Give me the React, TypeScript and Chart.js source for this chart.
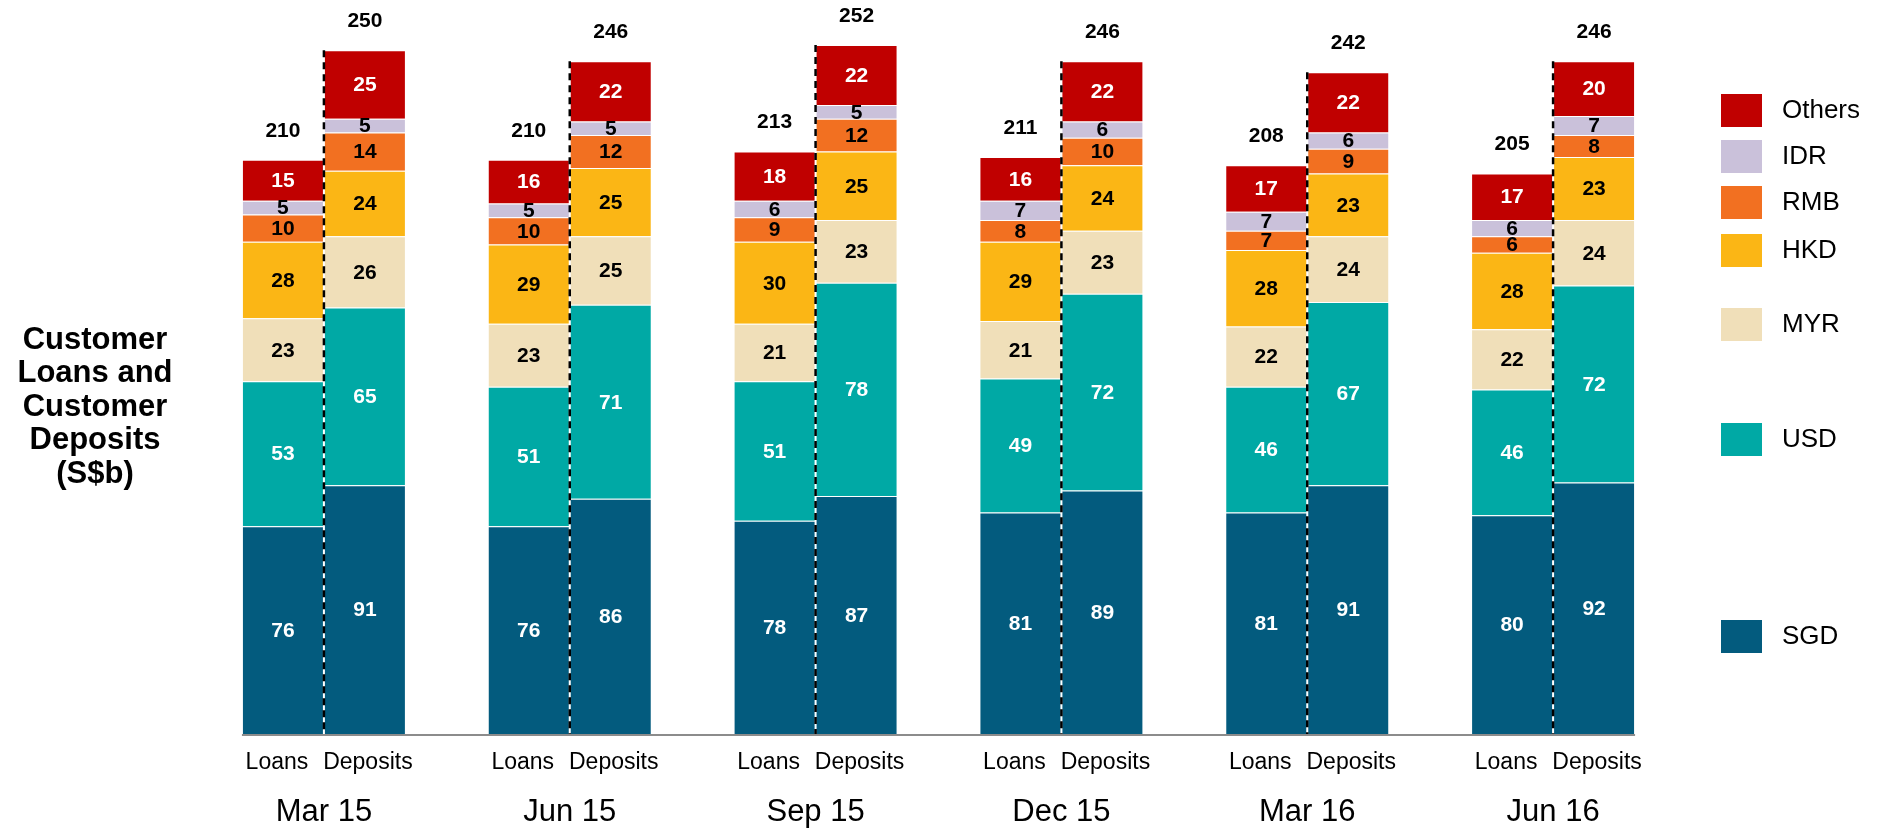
import React, { useEffect, useRef } from 'react';
import { Chart, registerables } from 'chart.js';

Chart.register(...registerables);

const PERIODS = ['Mar 15', 'Jun 15', 'Sep 15', 'Dec 15', 'Mar 16', 'Jun 16'];
const STACKS = ['Loans', 'Deposits'];
const CURRENCIES = ['SGD', 'USD', 'MYR', 'HKD', 'RMB', 'IDR', 'Others'];
const COLORS = ['#035b7e', '#00a9a5', '#f0dfb9', '#fbb615', '#f27021', '#cac1da', '#c00000'];
const LABEL_COLORS = ['#ffffff', '#ffffff', '#000000', '#000000', '#000000', '#000000', '#ffffff'];

const LOANS_SGD = [76, 76, 78, 81, 81, 80];
const LOANS_USD = [53, 51, 51, 49, 46, 46];
const LOANS_MYR = [23, 23, 21, 21, 22, 22];
const LOANS_HKD = [28, 29, 30, 29, 28, 28];
const LOANS_RMB = [10, 10, 9, 8, 7, 6];
const LOANS_IDR = [5, 5, 6, 7, 7, 6];
const LOANS_OTHERS = [15, 16, 18, 16, 17, 17];
const LOANS_TOTAL = [210, 210, 213, 211, 208, 205];

const DEP_SGD = [91, 86, 87, 89, 91, 92];
const DEP_USD = [65, 71, 78, 72, 67, 72];
const DEP_MYR = [26, 25, 23, 23, 24, 24];
const DEP_HKD = [24, 25, 25, 24, 23, 23];
const DEP_RMB = [14, 12, 12, 10, 9, 8];
const DEP_IDR = [5, 5, 5, 6, 6, 7];
const DEP_OTHERS = [25, 22, 22, 22, 22, 20];
const DEP_TOTAL = [250, 246, 252, 246, 242, 246];

const LOANS = [LOANS_SGD, LOANS_USD, LOANS_MYR, LOANS_HKD, LOANS_RMB, LOANS_IDR, LOANS_OTHERS];
const DEPOSITS = [DEP_SGD, DEP_USD, DEP_MYR, DEP_HKD, DEP_RMB, DEP_IDR, DEP_OTHERS];

const Y_TITLE = ['Customer', 'Loans and', 'Customer', 'Deposits', '(S$b)'];

const FONT = '"Liberation Sans", Arial, Helvetica, sans-serif';

// legend layout (top to bottom), irregular spacing as in the reference
const LEGEND_ORDER = [6, 5, 4, 3, 2, 1, 0];
const LEGEND_Y = [110, 156, 202, 250, 324, 439, 636];

const overlayPlugin = {
  id: 'overlay',
  afterDatasetsDraw(chart: any) {
    const ctx = chart.ctx as CanvasRenderingContext2D;
    const xs = chart.scales.x;
    const ys = chart.scales.y;
    const base = ys.getPixelForValue(0);
    const nC = CURRENCIES.length;
    ctx.save();

    // baseline from first bar's left edge to last bar's right edge
    const firstEl = chart.getDatasetMeta(0).data[0];
    const lastEl = chart.getDatasetMeta(1).data[PERIODS.length - 1];
    ctx.strokeStyle = '#8c8c8c';
    ctx.lineWidth = 2;
    ctx.beginPath();
    ctx.moveTo(firstEl.x - firstEl.width / 2, base + 1);
    ctx.lineTo(lastEl.x + lastEl.width / 2, base + 1);
    ctx.stroke();

    // dashed separators
    const depTopMeta = chart.getDatasetMeta(2 * (nC - 1) + 1);
    ctx.strokeStyle = '#000000';
    ctx.lineWidth = 2.5;
    ctx.setLineDash([7, 5]);
    PERIODS.forEach((_, i) => {
      const gx = xs.getPixelForValue(i);
      const top = depTopMeta.data[i].y;
      ctx.beginPath();
      ctx.moveTo(gx, top);
      ctx.lineTo(gx, base);
      ctx.stroke();
    });
    ctx.setLineDash([]);

    // segment labels
    ctx.textAlign = 'center';
    ctx.textBaseline = 'middle';
    ctx.font = `bold 21px ${FONT}`;
    chart.data.datasets.forEach((ds: any, di: number) => {
      const meta = chart.getDatasetMeta(di);
      const c = Math.floor(di / 2);
      ctx.fillStyle = LABEL_COLORS[c];
      meta.data.forEach((el: any, i: number) => {
        const v = ds.data[i];
        ctx.fillText(String(v), el.x, (el.y + el.base) / 2 + 1);
      });
    });

    // totals
    ctx.fillStyle = '#000000';
    [LOANS_TOTAL, DEP_TOTAL].forEach((tot, s) => {
      const meta = chart.getDatasetMeta(2 * (nC - 1) + s);
      meta.data.forEach((el: any, i: number) => {
        ctx.fillText(String(tot[i]), el.x, el.y - 29);
      });
    });

    // sub labels under each bar
    ctx.font = `23px ${FONT}`;
    STACKS.forEach((name, s) => {
      const meta = chart.getDatasetMeta(s);
      const shift = s === 0 ? -6 : 3;
      meta.data.forEach((el: any) => {
        ctx.fillText(name, el.x + shift, base + 29);
      });
    });

    // period labels
    ctx.font = `31px ${FONT}`;
    PERIODS.forEach((p, i) => {
      ctx.fillText(p, xs.getPixelForValue(i), base + 78);
    });

    // legend
    ctx.textAlign = 'left';
    ctx.font = `26px ${FONT}`;
    LEGEND_ORDER.forEach((c, k) => {
      const cy = LEGEND_Y[k];
      ctx.fillStyle = COLORS[c];
      ctx.fillRect(1721, cy - 16, 41, 33);
      ctx.fillStyle = '#000000';
      ctx.fillText(CURRENCIES[c], 1782, cy + 1);
    });

    // y axis title
    ctx.textAlign = 'center';
    ctx.font = `bold 31px ${FONT}`;
    Y_TITLE.forEach((line, k) => {
      ctx.fillText(line, 95, 340 + k * 33.5);
    });

    ctx.restore();
  },
};

export default function App() {
  const canvasRef = useRef<HTMLCanvasElement | null>(null);

  useEffect(() => {
    if (!canvasRef.current) return;
    const datasets: any[] = [];
    CURRENCIES.forEach((cur, c) => {
      datasets.push({
        label: cur,
        stack: STACKS[0],
        data: LOANS[c],
        backgroundColor: COLORS[c],
        borderColor: 'rgba(255,255,255,0.35)',
        borderWidth: 1,
      });
      datasets.push({
        label: cur,
        stack: STACKS[1],
        data: DEPOSITS[c],
        backgroundColor: COLORS[c],
        borderColor: 'rgba(255,255,255,0.35)',
        borderWidth: 1,
      });
    });

    const chart = new Chart(canvasRef.current, {
      type: 'bar',
      data: { labels: PERIODS, datasets },
      options: {
        animation: false,
        responsive: true,
        maintainAspectRatio: false,
        layout: { padding: { left: 201, right: 201, top: 23, bottom: 95 } },
        datasets: { bar: { barPercentage: 1, categoryPercentage: 0.667 } },
        plugins: {
          legend: { display: false },
          tooltip: { enabled: false },
        },
        scales: {
          x: {
            type: 'category',
            stacked: true,
            offset: true,
            display: false,
          },
          y: {
            stacked: true,
            min: 0,
            max: 260,
            display: false,
          },
        },
      },
      plugins: [overlayPlugin],
    });
    return () => chart.destroy();
  }, []);

  return (
    <div style={{ position: 'fixed', left: 0, top: 0, width: 1877, height: 829, background: '#ffffff' }}>
      <canvas ref={canvasRef} />
    </div>
  );
}
